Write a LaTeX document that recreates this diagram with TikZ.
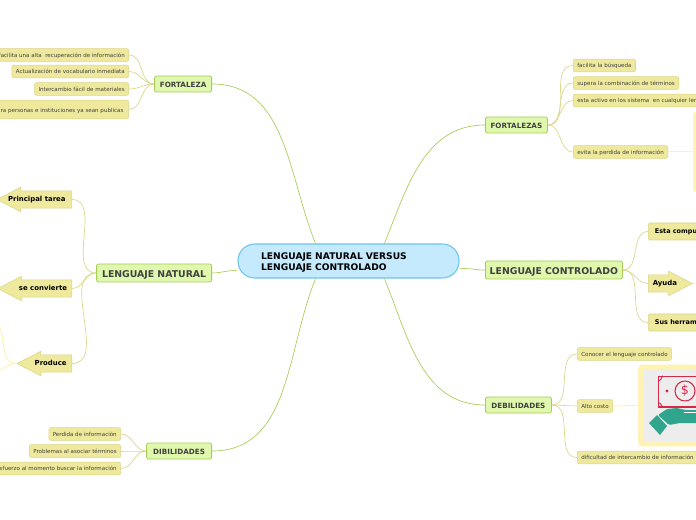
\documentclass[tikz,border=0pt]{standalone}
\usepackage{fontspec}
\setmainfont{DejaVu Sans}
\usetikzlibrary{shapes.arrows}
\definecolor{rootfill}{HTML}{C5EAFD}
\definecolor{rootline}{HTML}{6CC5EE}
\definecolor{mainfill}{HTML}{E0F8AE}
\definecolor{mainline}{HTML}{A8CC55}
\definecolor{leaffill}{HTML}{EEE99C}
\definecolor{leafline}{HTML}{DAD68A}
\definecolor{imgfill}{HTML}{FFF3B4}
\definecolor{iconred}{HTML}{D8284A}
\definecolor{icongreen}{HTML}{2FA58E}
\tikzset{
  rootbox/.style={draw=rootline, thick, rounded corners=12.5pt, fill=rootfill, minimum width=165.75pt, minimum height=25.5pt, align=left, text width=131pt, text height=6.9pt, font=\fontsize{6.85}{8.3}\selectfont\bfseries},
  mainbox/.style={draw=mainline, semithick, rounded corners=1.5pt, fill=mainfill, minimum height=12pt, inner sep=1pt, text height=5pt, text depth=0pt, text=black!75, font=\fontsize{5.4}{6}\selectfont\bfseries},
  bigbox/.style={mainbox, minimum height=13.5pt, text height=6.5pt, font=\fontsize{7}{8}\selectfont\bfseries},
  leafbox/.style={draw=leafline, rounded corners=1.5pt, fill=leaffill, minimum height=9.5pt, inner ysep=1pt, inner xsep=3pt, text height=3.5pt, text depth=0.3pt, text=black!75, font=\fontsize{4.15}{5}\selectfont},
  tagbox/.style={draw=leafline, rounded corners=1pt, fill=leaffill, minimum height=12.75pt, inner sep=1pt, font=\fontsize{4.85}{6}\selectfont\bfseries},
  tagarrow/.style={single arrow, draw=leafline, fill=leaffill, single arrow head indent=0pt, single arrow tip angle=55, single arrow head extend=2.8pt, inner xsep=0pt, inner ysep=3pt, text height=5pt, text depth=1.5pt, font=\fontsize{5.2}{6}\selectfont\bfseries},
  imgbox/.style={draw=imgfill, fill=imgfill, rounded corners=3pt, minimum width=52pt, minimum height=61pt},
  trunk/.style={draw=mainline, line width=0.5pt},
  twig/.style={draw=leafline, line width=0.5pt},
  palelink/.style={draw=imgfill, line width=0.75pt}
}
\begin{document}
\begin{tikzpicture}[x=0.75pt, y=-0.75pt]
  \useasboundingbox (0,0) rectangle (696,520);
  \clip (0,0) rectangle (696,520);

  % root and main branches
  \node[rootbox] (root) at (348.5,261) {LENGUAJE NATURAL VERSUS\\LENGUAJE CONTROLADO};
  \node[mainbox, anchor=east, minimum width=42.75pt] (fortaleza) at (212,84) {FORTALEZA};
  \node[bigbox, anchor=east, minimum width=86.25pt] (natural) at (212,273) {LENGUAJE NATURAL};
  \node[mainbox, anchor=east, minimum width=48.75pt] (dibilidades) at (212,451) {DIBILIDADES};
  \node[mainbox, anchor=west, minimum width=46.5pt] (fortalezas) at (485,125) {FORTALEZAS};
  \node[bigbox, anchor=west, minimum width=102.75pt] (controlado) at (485,270) {LENGUAJE CONTROLADO};
  \node[mainbox, anchor=west, minimum width=49.5pt] (debilidades) at (485,405) {DEBILIDADES};

  % left leaves
  \node[leafbox, anchor=east] (facilita) at (129,55) {\hspace{4pt}facilita una alta\ \ recuperación de información};
  \node[leafbox, anchor=east] (actual) at (129,71.5) {Actualización de vocabulario inmediata};
  \node[leafbox, anchor=east] (intercambio) at (129,89) {Intercambio fácil de materiales};
  \node[leafbox, anchor=east, minimum height=14pt, text height=8.5pt, text depth=3.5pt] (personas) at (129,109.5) {\hspace{4pt}ra personas e instituciones\ ya sean publicas\hspace{1pt}\null};
  \node[leafbox, anchor=east] (perdida) at (121,434) {Perdida de información};
  \node[leafbox, anchor=east] (problemas) at (121,451) {Problemas al asociar términos};
  \node[leafbox, anchor=east] (esfuerzo) at (121,468.5) {\hspace{4pt}sfuerzo al momento buscar la información};

  % left tags
  \node[tagarrow, shape border rotate=180, anchor=tail, minimum height=56pt] (tarea) at (72,199.5) {\kern-4.4pt Principal tarea\kern4.4pt};
  \node[tagarrow, shape border rotate=180, anchor=tail, minimum height=55.5pt] (convierte) at (72,288.5) {se convierte};
  \node[tagarrow, shape border rotate=180, anchor=tail, minimum height=41pt] (produce) at (72,363.5) {\kern-1.5pt Produce\kern1.5pt};
  \coordinate (produceup) at (0,328);
  \coordinate (producedown) at (0,370);

  % right leaves
  \node[leafbox, anchor=west] (busqueda) at (573,65.5) {facilita la búsqueda};
  \node[leafbox, anchor=west] (supera) at (573,83) {supera la combinación de términos};
  \node[leafbox, anchor=west] (activo) at (573,100.5) {esta activo en los sistema\ \ en cualquier len\hspace{10pt}\null};
  \node[leafbox, anchor=west] (evita) at (573,152) {evita la perdida de información};
  \node[imgbox, anchor=west] (evitaimg) at (693,152) {};
  \node[tagbox, anchor=west] (compu) at (648,231.5) {\hspace{4pt}Esta compu\hspace{30pt}\null};
  \node[tagarrow, anchor=tail, minimum height=33pt] (ayuda) at (648,283.5) {\kern2.2pt Ayuda\kern-2.2pt};
  \node[tagbox, anchor=west] (herram) at (648,322.5) {\hspace{4pt}Sus herram\hspace{30pt}\null};
  \node[leafbox, anchor=west] (conocer) at (577,354) {Conocer el lenguaje controlado};
  \node[leafbox, anchor=west] (costo) at (577,406) {Alto costo};
  \node[leafbox, anchor=west] (dificultad) at (577,457.5) {dificultad de intercambio de información\hspace{4pt}\null};
  \node[imgbox, anchor=west] (costoimg) at (638,405.5) {};

  % picture inside the box
  \fill[black!7, rounded corners=1pt] (643,369) rectangle (700,442);
  \draw[iconred, line width=1pt] (658.5,376.5) rectangle (705,407);
  \draw[iconred, line width=0.7pt] (658.5,381) to[out=0,in=90] (663,376.5);
  \draw[iconred, line width=0.7pt] (658.5,402.5) to[out=0,in=-90] (663,407);
  \fill[iconred] (667,391) circle (1.6);
  \draw[iconred, line width=0.8pt] (685,391) circle (10);
  \node[text=iconred, inner sep=0pt, font=\fontsize{9.5}{10}\selectfont] (dollar) at (685,391) {\$};
  \fill[icongreen, rounded corners=1pt] (658,415) -- (667,409) -- (677,408) -- (685,410) -- (700,410) -- (700,423) -- (680,423) -- (669,425) -- cycle;
  \draw[white, line width=0.4pt] (684,412.5) -- (700,412.5);
  \fill[icongreen] (649,423) -- (657,415) -- (667,426) -- (660,435) -- cycle;

  % connectors
  \draw[trunk] (root.152) to[out=112,in=0] (fortaleza.east);
  \draw[trunk] (root.185) to[out=175,in=0] (natural.east);
  \draw[trunk] (root.208) to[out=-112,in=0] (dibilidades.east);
  \draw[trunk] (root.26) to[out=68,in=180] (fortalezas.west);
  \draw[trunk] (root.-4) to[out=5,in=180] (controlado.west);
  \draw[trunk] (root.-26) to[out=-68,in=180] (debilidades.west);

  \draw[twig] (facilita.east) to[out=0,in=180] (fortaleza.west);
  \draw[twig] (actual.east) to[out=0,in=180] (fortaleza.west);
  \draw[twig] (intercambio.east) to[out=0,in=180] (fortaleza.west);
  \draw[twig] (personas.east) to[out=0,in=180] (fortaleza.west);
  \draw[twig] (tarea.tail) to[out=0,in=180] (natural.west);
  \draw[twig] (convierte.tail) to[out=0,in=180] (natural.west);
  \draw[twig] (produce.tail) to[out=0,in=180] (natural.west);
  \draw[twig] (perdida.east) to[out=0,in=180] (dibilidades.west);
  \draw[twig] (problemas.east) to[out=0,in=180] (dibilidades.west);
  \draw[twig] (esfuerzo.east) to[out=0,in=180] (dibilidades.west);
  \draw[twig] (fortalezas.east) to[out=0,in=180] (busqueda.west);
  \draw[twig] (fortalezas.east) to[out=0,in=180] (supera.west);
  \draw[twig] (fortalezas.east) to[out=0,in=180] (activo.west);
  \draw[twig] (fortalezas.east) to[out=0,in=180] (evita.west);
  \draw[twig] (controlado.east) to[out=0,in=180] (compu.west);
  \draw[twig] (controlado.east) to[out=0,in=180] (ayuda.tail);
  \draw[twig] (controlado.east) to[out=0,in=180] (herram.west);
  \draw[twig] (debilidades.east) to[out=0,in=180] (conocer.west);
  \draw[twig] (debilidades.east) to[out=0,in=180] (costo.west);
  \draw[twig] (debilidades.east) to[out=0,in=180] (dificultad.west);

  \draw[palelink] (evita.east) -- (evitaimg.west);
  \draw[palelink] (costo.east) -- (costoimg.west);
  \draw[palelink] (produce.tip) to[out=180,in=-70] (produceup);
  \draw[palelink] (produce.tip) to[out=180,in=20] (producedown);
  \draw[palelink] (ayuda.tip) -- +(6,0);
\end{tikzpicture}
\end{document}
